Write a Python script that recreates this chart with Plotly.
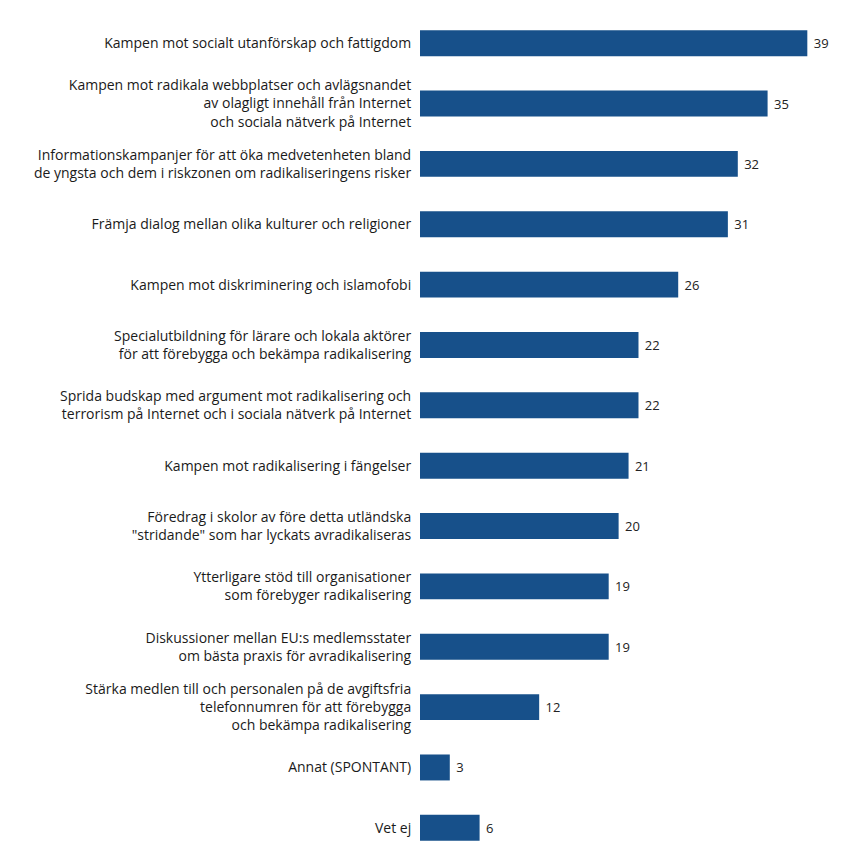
import plotly.graph_objects as go

categories = [
    "Kampen mot socialt utanförskap och fattigdom",
    "Kampen mot radikala webbplatser och avlägsnandet<br>av olagligt innehåll från Internet<br>och sociala nätverk på Internet",
    "Informationskampanjer för att öka medvetenheten bland<br>de yngsta och dem i riskzonen om radikaliseringens risker",
    "Främja dialog mellan olika kulturer och religioner",
    "Kampen mot diskriminering och islamofobi",
    "Specialutbildning för lärare och lokala aktörer<br>för att förebygga och bekämpa radikalisering",
    "Sprida budskap med argument mot radikalisering och<br>terrorism på Internet och i sociala nätverk på Internet",
    "Kampen mot radikalisering i fängelser",
    "Föredrag i skolor av före detta utländska<br>\"stridande\" som har lyckats avradikaliseras",
    "Ytterligare stöd till organisationer<br>som förebyger radikalisering",
    "Diskussioner mellan EU:s medlemsstater<br>om bästa praxis för avradikalisering",
    "Stärka medlen till och personalen på de avgiftsfria<br>telefonnumren för att förebygga<br>och bekämpa radikalisering",
    "Annat (SPONTANT)",
    "Vet ej",
]
values = [39, 35, 32, 31, 26, 22, 22, 21, 20, 19, 19, 12, 3, 6]

fig = go.Figure(go.Bar(
    x=values,
    y=categories,
    orientation="h",
    marker=dict(color="#17508a", line=dict(width=0)),
    text=[" " + str(v) for v in values],
    textposition="outside",
    textfont=dict(family="Open Sans", size=13, color="#222222"),
    cliponaxis=False,
))

fig.update_layout(
    width=863, height=863,
    margin=dict(l=412, r=18, t=5, b=13),
    paper_bgcolor="white", plot_bgcolor="white",
    bargap=0.57,
    showlegend=False,
    font=dict(family="Open Sans", size=14, color="#1a1a1a"),
)
fig.update_xaxes(range=[0, 43.6], visible=False)
fig.update_yaxes(
    autorange="reversed",
    showgrid=False, zeroline=False, showline=False,
    ticks="outside", ticklen=5, tickcolor="rgba(0,0,0,0)",
    tickfont=dict(family="Open Sans", size=14, color="#1a1a1a"),
    automargin=False,
)

fig.write_html("out.html")
